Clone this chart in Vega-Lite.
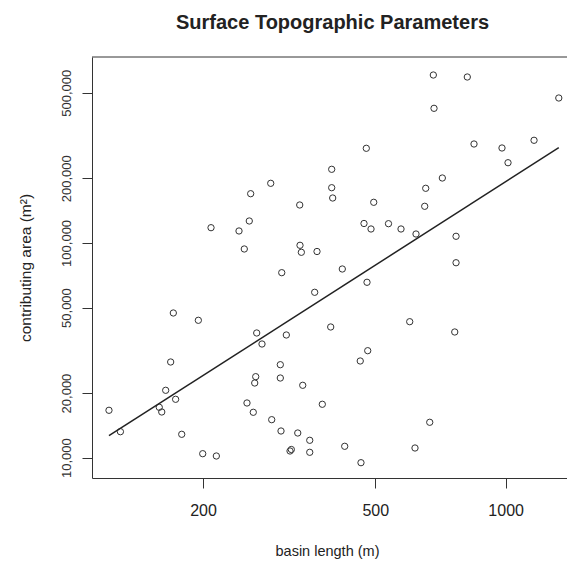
{
  "$schema": "https://vega.github.io/schema/vega-lite/v6.json",
  "width": 475,
  "height": 421,
  "autosize": {"type": "none"},
  "padding": {"left": 92, "top": 57, "right": 0, "bottom": 83},
  "background": "white",
  "config": {"view": {"stroke": null}, "font": "Liberation Sans"},
  "title": {"text": "Surface Topographic Parameters", "fontSize": 20, "fontWeight": "bold", "color": "#222", "anchor": "middle", "baseline": "alphabetic", "offset": 8, "dx": 3},
  "datasets": {
    "pts": [
      {"length": 121.3, "area": 16623}, {"length": 128.9, "area": 13214}, {"length": 158.5, "area": 17166}, {"length": 160.6, "area": 16322},
      {"length": 164.0, "area": 20596}, {"length": 168.4, "area": 27896}, {"length": 170.8, "area": 47175}, {"length": 172.9, "area": 18703},
      {"length": 178.6, "area": 12851}, {"length": 195.1, "area": 43620}, {"length": 199.7, "area": 10438}, {"length": 208.7, "area": 117700},
      {"length": 214.7, "area": 10184}, {"length": 242.2, "area": 113630}, {"length": 249.1, "area": 93680}, {"length": 252.7, "area": 17976},
      {"length": 255.8, "area": 126470}, {"length": 257.7, "area": 169450}, {"length": 261.3, "area": 16270}, {"length": 263.3, "area": 22270},
      {"length": 264.7, "area": 23834}, {"length": 266.1, "area": 38070}, {"length": 273.7, "area": 33830}, {"length": 286.7, "area": 189420},
      {"length": 288.2, "area": 15031}, {"length": 301.7, "area": 27100}, {"length": 301.7, "area": 23495}, {"length": 302.8, "area": 13314},
      {"length": 304.0, "area": 72670}, {"length": 311.5, "area": 37260}, {"length": 317.7, "area": 10744}, {"length": 319.9, "area": 10918},
      {"length": 331.0, "area": 13031}, {"length": 334.5, "area": 150130}, {"length": 335.0, "area": 97460}, {"length": 337.4, "area": 90420},
      {"length": 339.9, "area": 21730}, {"length": 352.8, "area": 12050}, {"length": 352.8, "area": 10596}, {"length": 362.2, "area": 58890},
      {"length": 366.7, "area": 91200}, {"length": 377.2, "area": 17730}, {"length": 394.4, "area": 40600}, {"length": 396.5, "area": 220100},
      {"length": 396.5, "area": 180700}, {"length": 398.6, "area": 161810}, {"length": 419.5, "area": 75600}, {"length": 424.9, "area": 11300},
      {"length": 461.5, "area": 28197}, {"length": 463.3, "area": 9478}, {"length": 470.8, "area": 123130}, {"length": 476.6, "area": 275700},
      {"length": 478.4, "area": 65560}, {"length": 480.2, "area": 31490}, {"length": 488.7, "area": 116080}, {"length": 495.8, "area": 154530},
      {"length": 536.3, "area": 122870}, {"length": 573.2, "area": 116080}, {"length": 600.4, "area": 42970}, {"length": 617.5, "area": 11095},
      {"length": 620.8, "area": 110000}, {"length": 650.2, "area": 148050}, {"length": 653.7, "area": 179550}, {"length": 667.8, "area": 14617},
      {"length": 680.7, "area": 604800}, {"length": 683.2, "area": 423200}, {"length": 714.1, "area": 200500}, {"length": 762.8, "area": 38480},
      {"length": 768.1, "area": 107330}, {"length": 768.1, "area": 80850}, {"length": 815.5, "area": 592000}, {"length": 845.1, "area": 288700},
      {"length": 980.7, "area": 276600}, {"length": 1012.6, "area": 236200}, {"length": 1162.9, "area": 300400}, {"length": 1326.5, "area": 472700}
    ],
    "fit": [
      {"length": 121.3, "area": 12660},
      {"length": 1326.5, "area": 277500}
    ],
    "top": [{"area": 733600}]
  },
  "layer": [
    {
      "data": {"name": "pts"},
      "mark": {"type": "point", "shape": "circle", "filled": false, "size": 40, "stroke": "#333", "strokeWidth": 1, "opacity": 1},
      "encoding": {
        "x": {
          "field": "length", "type": "quantitative",
          "scale": {"type": "log", "domain": [110.83, 1385.7], "nice": false},
          "axis": {
            "values": [200, 500, 1000], "format": "d", "grid": false,
            "labelFontSize": 16, "labelColor": "#222", "labelPadding": 14, "labelFlush": false, "labelOverlap": false,
            "tickSize": 10, "tickColor": "#333", "domainColor": "#333",
            "title": "basin length (m)", "titleFontSize": 14.5, "titleFontWeight": "normal", "titleColor": "#222",
            "titleX": 235, "titleY": 73, "titleBaseline": "middle", "titleAlign": "center"
          }
        },
        "y": {
          "field": "area", "type": "quantitative",
          "scale": {"type": "log", "domain": [8044, 733600], "nice": false},
          "axis": {
            "values": [10000, 20000, 50000, 100000, 200000, 500000], "format": ",d", "grid": false,
            "labelAngle": 270, "labelAlign": "center", "labelBaseline": "bottom", "labelPadding": 9,
            "labelFontSize": 13, "labelColor": "#333", "labelFlush": false, "labelOverlap": false,
            "tickSize": 10, "tickColor": "#333", "domainColor": "#333",
            "title": "contributing area (m²)", "titleFontSize": 15.5, "titleFontWeight": "normal", "titleColor": "#222",
            "titleAngle": 270, "titleX": -67, "titleY": 210.5, "titleBaseline": "middle", "titleAlign": "center"
          }
        }
      }
    },
    {
      "data": {"name": "fit"},
      "mark": {"type": "line", "color": "#222", "strokeWidth": 1.5},
      "encoding": {
        "x": {"field": "length", "type": "quantitative"},
        "y": {"field": "area", "type": "quantitative"}
      }
    },
    {
      "data": {"name": "top"},
      "mark": {"type": "rule", "color": "#333", "strokeWidth": 1},
      "encoding": {"y": {"field": "area", "type": "quantitative"}}
    }
  ]
}
